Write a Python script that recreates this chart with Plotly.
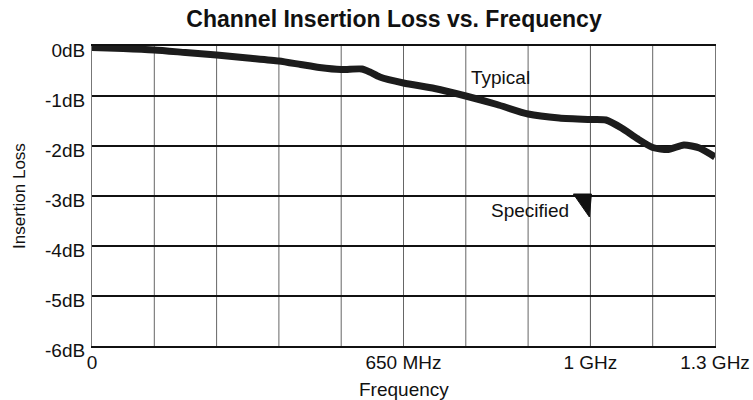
import plotly.graph_objects as go

# Frequency positions in grid divisions (10 divisions span 0 .. 1.3 GHz)
freq_div = [0, 0.5, 1, 1.5, 2, 2.5, 3, 3.35, 3.65, 4, 4.33, 4.46, 4.62, 5, 5.5,
            6, 6.5, 7, 7.5, 8, 8.25, 8.5, 8.75, 9, 9.25, 9.5, 9.75, 10]
# Typical channel insertion loss (dB)
typical_db = [-0.03, -0.05, -0.08, -0.13, -0.18, -0.24, -0.30, -0.37, -0.43, -0.47,
              -0.46, -0.52, -0.62, -0.74, -0.85, -1.00, -1.17, -1.36, -1.44, -1.47,
              -1.48, -1.64, -1.85, -2.03, -2.07, -1.98, -2.04, -2.22]

# Specified limit: -3 dB at 1 GHz
spec_div = 8
spec_db = -3

x_tick_vals = [0, 5, 8, 10]
x_tick_text = ["0", "650 MHz", "1 GHz", "1.3 GHz"]
y_tick_vals = [0, -1, -2, -3, -4, -5, -6]
y_tick_text = ["0dB", "-1dB", "-2dB", "-3dB", "-4dB", "-5dB", "-6dB"]

FONT = "Liberation Sans, Arial, Helvetica, sans-serif"

fig = go.Figure()
fig.add_trace(go.Scatter(
    x=freq_div, y=typical_db, mode="lines",
    line=dict(color="#1c1c1c", width=7, shape="spline", smoothing=0.6),
    hoverinfo="skip", showlegend=False,
))

# Wedge marking the specified limit, its corner sitting on the limit point
fig.add_shape(
    type="path", xref="x", yref="y",
    xsizemode="pixel", ysizemode="pixel",
    xanchor=spec_div, yanchor=spec_db,
    path="M -17,2 L 1,2 L -1,-21 Z",
    fillcolor="#111", line=dict(color="#111", width=1),
)

fig.add_annotation(x=6.55, y=-0.62, text="Typical", showarrow=False,
                   font=dict(family=FONT, size=19, color="#111"))
fig.add_annotation(x=spec_div, y=spec_db, xanchor="right", yanchor="middle",
                   xshift=-19, yshift=-14, text="Specified", showarrow=False,
                   font=dict(family=FONT, size=19, color="#111"))

# Axis titles
fig.add_annotation(x=0.5, y=0, xref="paper", yref="paper", yshift=-43,
                   xanchor="center", yanchor="middle", text="Frequency",
                   showarrow=False, font=dict(family=FONT, size=19, color="#111"))
fig.add_annotation(x=0, y=0.5, xref="paper", yref="paper", xshift=-73,
                   xanchor="center", yanchor="middle", text="Insertion Loss",
                   textangle=-90, showarrow=False,
                   font=dict(family=FONT, size=17, color="#111"))

fig.update_layout(
    width=753, height=400,
    margin=dict(l=92, r=38, t=46, b=54),
    paper_bgcolor="white", plot_bgcolor="white",
    font=dict(family=FONT, size=19, color="#111"),
    title=dict(text="<b>Channel Insertion Loss vs. Frequency</b>",
               x=394 / 753, xref="container", xanchor="center",
               y=1 - 19 / 400, yref="container", yanchor="middle",
               automargin=False,
               font=dict(family=FONT, size=23, color="#111")),
    xaxis=dict(range=[0, 10], tickmode="array", tickvals=x_tick_vals,
               ticktext=x_tick_text, showgrid=True, gridcolor="#666",
               gridwidth=1, showline=True, linecolor="#111",
               linewidth=2, mirror=True, zeroline=False, ticks="",
               ticklabelstandoff=-2, automargin=False),
    yaxis=dict(range=[-6, 0], tickmode="array", tickvals=y_tick_vals,
               ticktext=y_tick_text, showgrid=True, gridcolor="#111",
               gridwidth=2, showline=True, linecolor="#777", linewidth=1,
               mirror=True, zeroline=False, ticks="", ticklabelstandoff=2,
               ticklabelshift=4, automargin=False),
)

# Vertical division lines every grid step (the labelled ticks are sparse)
for d in range(1, 10):
    fig.add_vline(x=d, line=dict(color="#666", width=1), layer="below")

fig.write_html("out.html")
